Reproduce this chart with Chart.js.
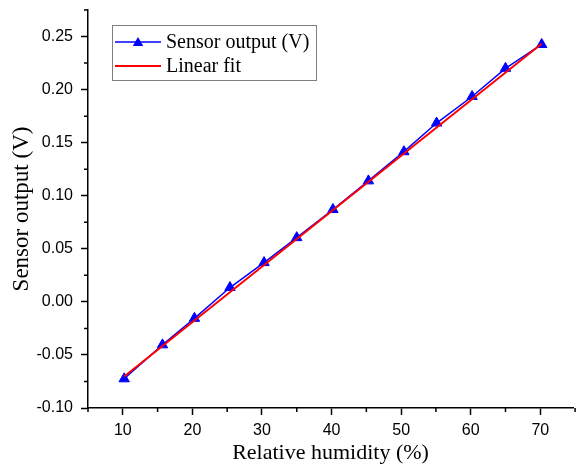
<!DOCTYPE html>
<html>
<head>
<meta charset="utf-8">
<title>Sensor output vs relative humidity</title>
<script src="https://cdn.jsdelivr.net/npm/chart.js@4.4.1/dist/chart.umd.min.js"></script>
<style>
  html, body { margin: 0; padding: 0; background: #fff; }
  #wrap { width: 580px; height: 466px; }
</style>
</head>
<body>
<div id="wrap"><canvas id="chart" width="580" height="466"></canvas></div>
<script>
// Measured points: relative humidity (%) and sensor output (V)
const humidity = [10.2, 15.7, 20.3, 25.4, 30.3, 35.0, 40.2, 45.3, 50.4, 55.1, 60.2, 65.0, 70.2];
const sensorOutput = [-0.0725, -0.0405, -0.0155, 0.0135, 0.0370, 0.0605, 0.0870, 0.1140, 0.1415, 0.1685, 0.1935, 0.2200, 0.2425];

// Linear fit, read at its two ends
const fitX = [10.2, 70.2];
const fitY = [-0.0703, 0.2432];

// Axis ticks
const xTicks = [10, 20, 30, 40, 50, 60, 70];
const xMinorTicks = [5, 15, 25, 35, 45, 55, 65, 75];
const yTicks = [-0.10, -0.05, 0.00, 0.05, 0.10, 0.15, 0.20, 0.25];
const yMinorTicks = [-0.075, -0.025, 0.025, 0.075, 0.125, 0.175, 0.225, 0.275];

const BLUE = "#0000ff";
const RED = "#ff0000";

// short minor ticks, placed through the scales
const minorTicks = {
  id: "minorTicks",
  afterDraw(chart) {
    const { ctx, scales: { x, y } } = chart;
    ctx.save();
    ctx.strokeStyle = "#000";
    ctx.lineWidth = 1.5;
    ctx.beginPath();
    xMinorTicks.forEach((v) => {
      const px = x.getPixelForValue(v);
      ctx.moveTo(px, x.top);
      ctx.lineTo(px, x.top + 4);
    });
    yMinorTicks.forEach((v) => {
      const py = y.getPixelForValue(v);
      ctx.moveTo(y.right, py);
      ctx.lineTo(y.right - 4, py);
    });
    ctx.stroke();
    ctx.restore();
  }
};

function triangle(ctx, cx, cy, r) {
  ctx.beginPath();
  ctx.moveTo(cx, cy - r);
  ctx.lineTo(cx + r * 0.866, cy + r * 0.5);
  ctx.lineTo(cx - r * 0.866, cy + r * 0.5);
  ctx.closePath();
  ctx.fill();
}

// boxed legend in the upper left of the plot
const boxLegend = {
  id: "boxLegend",
  afterDraw(chart) {
    const ctx = chart.ctx;
    const left = 112, top = 25, w = 204, h = 55;
    ctx.save();
    ctx.fillStyle = "#fff";
    ctx.fillRect(left, top, w, h);
    ctx.strokeStyle = "#808080";
    ctx.lineWidth = 1;
    ctx.strokeRect(left + 0.5, top + 0.5, w, h);

    const rows = [chart.data.datasets[0], chart.data.datasets[1]];
    rows.forEach((ds, i) => {
      const yy = 42 + i * 24;
      ctx.strokeStyle = ds.borderColor;
      ctx.lineWidth = ds.borderWidth;
      ctx.beginPath();
      ctx.moveTo(115, yy);
      ctx.lineTo(161, yy);
      ctx.stroke();
      if (ds.pointRadius > 0) {
        ctx.fillStyle = ds.pointBackgroundColor;
        triangle(ctx, 138, yy + 1, ds.pointRadius);
      }
      ctx.fillStyle = "#000";
      ctx.font = '20px "Liberation Serif"';
      ctx.textBaseline = "middle";
      ctx.fillText(ds.label, 166, yy + 1);
    });
    ctx.restore();
  }
};

// fixed axis boxes so the plot area lands where the original has it
function fixBox(size) {
  return (s) => {
    if (s.isHorizontal()) s.height = size; else s.width = size;
    s.paddingTop = 0;
    s.paddingBottom = 0;
    s.paddingLeft = 0;
    s.paddingRight = 0;
  };
}

new Chart(document.getElementById("chart"), {
  type: "line",
  data: {
    datasets: [
      {
        label: "Sensor output (V)",
        data: humidity.map((h, i) => ({ x: h, y: sensorOutput[i] })),
        borderColor: BLUE,
        borderWidth: 1.5,
        pointStyle: "triangle",
        pointRadius: 6,
        pointBackgroundColor: BLUE,
        pointBorderColor: BLUE,
        pointBorderWidth: 1,
        order: 2
      },
      {
        label: "Linear fit",
        data: fitX.map((h, i) => ({ x: h, y: fitY[i] })),
        borderColor: RED,
        borderWidth: 2,
        pointRadius: 0,
        order: 1
      }
    ]
  },
  options: {
    responsive: false,
    animation: false,
    layout: { padding: { top: 10, right: 0, left: 0, bottom: 0 } },
    plugins: { legend: { display: false }, tooltip: { enabled: false } },
    scales: {
      x: {
        type: "linear",
        min: 5,
        max: 74.7,
        afterBuildTicks: (s) => { s.ticks = xTicks.map((v) => ({ value: v })); },
        afterFit: fixBox(58),
        grid: { drawOnChartArea: false, tickLength: 7, tickColor: "#000", tickWidth: 1.5 },
        border: { color: "#000", width: 1.5 },
        ticks: {
          color: "#000",
          padding: 6,
          maxRotation: 0,
          font: { family: "Liberation Sans", size: 16 },
          callback: (v) => String(v)
        },
        title: {
          display: true,
          text: "Relative humidity (%)",
          color: "#000",
          font: { family: "Liberation Serif", size: 22 },
          padding: { top: 0, bottom: 0 }
        }
      },
      y: {
        type: "linear",
        min: -0.1,
        max: 0.275,
        afterBuildTicks: (s) => { s.ticks = yTicks.map((v) => ({ value: v })); },
        afterFit: fixBox(88),
        grid: { drawOnChartArea: false, tickLength: 7, tickColor: "#000", tickWidth: 1.5 },
        border: { color: "#000", width: 1.5 },
        ticks: {
          color: "#000",
          padding: 8,
          font: { family: "Liberation Sans", size: 16 },
          callback: (v) => Number(v).toFixed(2)
        },
        title: {
          display: true,
          text: "Sensor output (V)",
          color: "#000",
          font: { family: "Liberation Serif", size: 23 },
          padding: { top: 8, bottom: 0 }
        }
      }
    }
  },
  plugins: [minorTicks, boxLegend]
});
</script>
</body>
</html>
